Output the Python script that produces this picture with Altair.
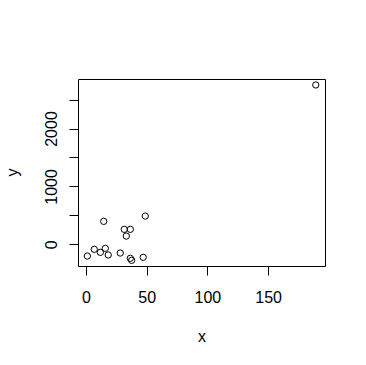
import altair as alt
import pandas as pd

x_vals = [1.1, 6.8, 11.8, 15.9, 18.3, 14.6, 28.2, 31.5, 36.5, 33.2, 36.5, 37.6, 47.1, 48.8, 189.3]
y_vals = [-202, -86, -138, -69, -184, 397, -150, 259, 259, 143, -241, -276, -224, 488, 2752]
x_ticks = [0, 50, 100, 150]
y_ticks = [0, 500, 1000, 1500, 2000, 2500]

df = pd.DataFrame({"x": x_vals, "y": y_vals})

FONT = "Liberation Sans"

chart = alt.Chart(df).mark_point(
    shape="circle", filled=False, color="black", strokeWidth=1, size=40, opacity=1
).encode(
    x=alt.X("x:Q", scale=alt.Scale(domain=[-6.6, 196.9], nice=False, zero=False),
            axis=alt.Axis(values=x_ticks, format="d", grid=False, domain=False,
                          tickSize=9, tickColor="black", tickWidth=1,
                          labelFont=FONT, labelFontSize=16, labelColor="black",
                          labelBaseline="alphabetic", labelPadding=27,
                          title="x", titleFont=FONT, titleFontSize=16, titleFontWeight="normal",
                          titleColor="black", titleBaseline="alphabetic", titleAlign="center",
                          titleX=123.5, titleY=75)),
    y=alt.Y("y:Q", scale=alt.Scale(domain=[-374, 2855], nice=False, zero=False),
            axis=alt.Axis(values=y_ticks, format="d", grid=False, domain=False,
                          labelExpr="datum.value % 1000 == 0 ? datum.label : ''",
                          tickSize=9, tickColor="black", tickWidth=1,
                          labelFont=FONT, labelFontSize=16, labelColor="black",
                          labelAngle=270, labelAlign="center", labelBaseline="alphabetic",
                          labelPadding=13,
                          title="y", titleFont=FONT, titleFontSize=16, titleFontWeight="normal",
                          titleColor="black", titleAngle=270, titleAlign="center",
                          titleBaseline="alphabetic", titleX=-60.5, titleY=93)),
).properties(
    width=247, height=187,
    autosize=alt.AutoSizeParams(type="none"),
    padding={"left": 78, "top": 79, "right": 41, "bottom": 99},
    background="white",
).configure_view(stroke="black", strokeWidth=1)

chart.save("out.html", embed_options={"renderer": "svg", "actions": False})
